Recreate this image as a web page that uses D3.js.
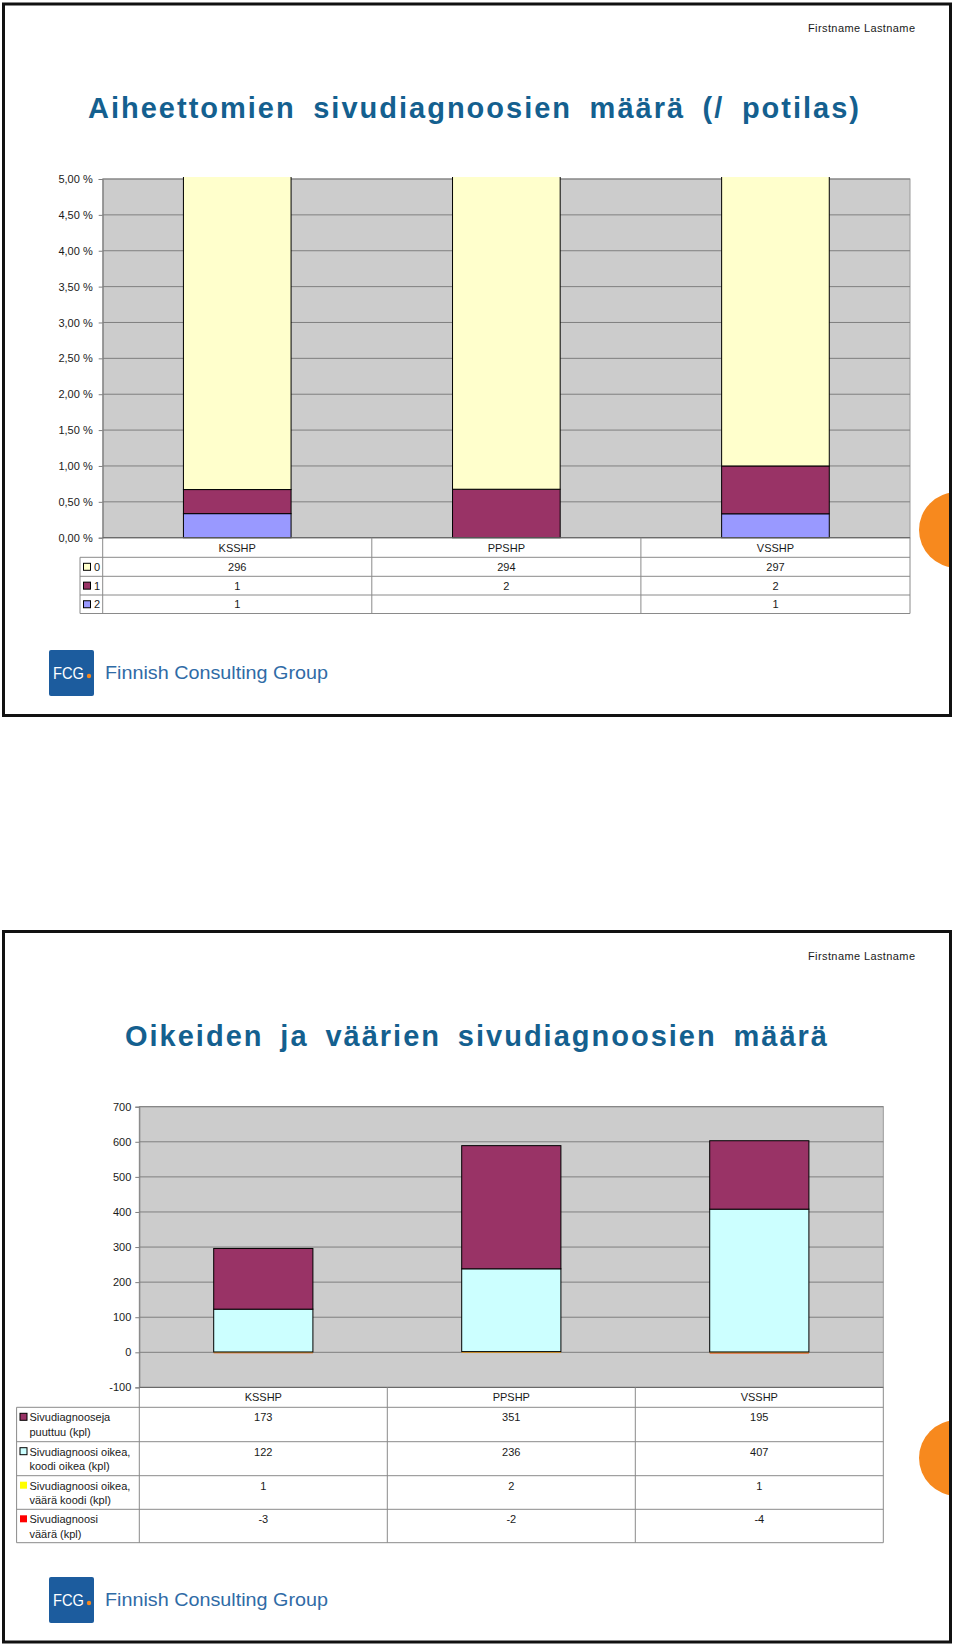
<!DOCTYPE html>
<html>
<head>
<meta charset="utf-8">
<script src="https://cdn.jsdelivr.net/npm/d3@7"></script>
<style>
  html, body { margin: 0; padding: 0; background: #fff; }
  svg { display: block; }
  text { font-family: "Liberation Sans", Arial, sans-serif; }
</style>
</head>
<body>
<script>
// ---------------- DATA ----------------
const categories = ["KSSHP", "PPSHP", "VSSHP"];

// Chart 1: Aiheettomien sivudiagnoosien määrä (/ potilas)
const chart1Title = "Aiheettomien sivudiagnoosien määrä (/ potilas)";
const c1SeriesNames = ["0", "1", "2"];
const c1Series0 = [296, 294, 297];
const c1Series1 = [1, 2, 2];
const c1Series2 = [1, null, 1];
const c1TickValues = [0, 0.005, 0.01, 0.015, 0.02, 0.025, 0.03, 0.035, 0.04, 0.045, 0.05];
const c1TickLabels = ["0,00 %", "0,50 %", "1,00 %", "1,50 %", "2,00 %", "2,50 %", "3,00 %", "3,50 %", "4,00 %", "4,50 %", "5,00 %"];

// Chart 2: Oikeiden ja väärien sivudiagnoosien määrä
const chart2Title = "Oikeiden ja väärien sivudiagnoosien määrä";
const c2SeriesLabels = [
  ["Sivudiagnooseja", "puuttuu (kpl)"],
  ["Sivudiagnoosi oikea,", "koodi oikea (kpl)"],
  ["Sivudiagnoosi oikea,", "väärä koodi (kpl)"],
  ["Sivudiagnoosi", "väärä (kpl)"]
];
const c2Puuttuu = [173, 351, 195];
const c2OikeaOikea = [122, 236, 407];
const c2OikeaVaara = [1, 2, 1];
const c2Vaara = [-3, -2, -4];
const c2TickValues = [-100, 0, 100, 200, 300, 400, 500, 600, 700];
const c2TickLabels = ["-100", "0", "100", "200", "300", "400", "500", "600", "700"];

const authorText = "Firstname Lastname";
const logoText = "Finnish Consulting Group";

// ---------------- STYLE ----------------
const FONT = '"Liberation Sans", Arial, sans-serif';
const TEXT_COLOR = "#1a1a1a";
const PLOT_BG = "#cccccc";
const GRID = "#7f7f7f";
const TABLE_LINE = "#8a8a8a";
const TITLE_COLOR = "#14608f";
const ORANGE = "#f7891e";
const LOGO_BLUE = "#1c5c9e";
const LOGO_TEXT = "#2f6ba6";

const svg = d3.select("body").append("svg").attr("width", 960).attr("height", 1645);
const defs = svg.append("defs");

// ---------------- SLIDE FRAME ----------------
function slide(top, bottom, circleY, titleText, titleX0, titleX1, titleBaseline, authorY, logoY) {
  const g = svg.append("g");
  const clipId = "slideclip" + Math.round(top);
  defs.append("clipPath").attr("id", clipId).append("rect")
    .attr("x", 3.5).attr("y", top).attr("width", 947).attr("height", bottom - top);
  g.append("circle").attr("clip-path", `url(#${clipId})`)
    .attr("cx", 957).attr("cy", circleY).attr("r", 38).attr("fill", ORANGE);
  g.append("rect").attr("x", 3.5).attr("y", top).attr("width", 947).attr("height", bottom - top)
    .attr("fill", "none").attr("stroke", "#111").attr("stroke-width", 3);
  g.append("text").attr("x", 915).attr("y", authorY).attr("text-anchor", "end")
    .attr("font-size", 11).attr("fill", TEXT_COLOR)
    .attr("textLength", 107).attr("lengthAdjust", "spacing").text(authorText);
  const title = g.append("text").attr("x", titleX0).attr("y", titleBaseline)
    .attr("font-size", 29).attr("font-weight", "bold").attr("fill", TITLE_COLOR)
    .style("letter-spacing", "2px").text(titleText);
  const measured = title.node().getComputedTextLength();
  const spaces = (titleText.match(/ /g) || []).length;
  const ws = (titleX1 - titleX0 - measured) / spaces;
  title.style("word-spacing", ws + "px");
  // logo
  g.append("rect").attr("x", 49).attr("y", logoY).attr("width", 45).attr("height", 46)
    .attr("rx", 2).attr("fill", LOGO_BLUE);
  g.append("text").attr("x", 53).attr("y", logoY + 29).attr("font-size", 17)
    .attr("fill", "#fff").attr("textLength", 31).attr("lengthAdjust", "spacingAndGlyphs").text("FCG");
  g.append("circle").attr("cx", 89).attr("cy", logoY + 26).attr("r", 2.2).attr("fill", ORANGE);
  g.append("text").attr("x", 105).attr("y", logoY + 29).attr("font-size", 19)
    .attr("fill", LOGO_TEXT).attr("textLength", 223).attr("lengthAdjust", "spacingAndGlyphs").text(logoText);
}

slide(4, 715.5, 530, chart1Title, 88, 861, 118, 32, 650);
slide(931.5, 1642, 1458, chart2Title, 125, 829, 1046, 960, 1577);

// ---------------- CHART 1 ----------------
(function () {
  const x0 = 102.7, x1 = 910, yTop = 179, yZero = 537.7;
  const rowEdges = [537.7, 557.3, 576.3, 595, 613.5];
  const legendLeft = 80;

  const x = d3.scaleBand().domain(categories).range([x0, x1]).paddingInner(0.6).paddingOuter(0.3);
  const xCol = d3.scaleBand().domain(categories).range([x0, x1]).padding(0);
  const y = d3.scaleLinear().domain([0, 0.05]).range([yZero, yTop]);

  const g = svg.append("g");
  g.append("rect").attr("x", x0).attr("y", yTop).attr("width", x1 - x0).attr("height", yZero - yTop)
    .attr("fill", PLOT_BG).attr("stroke", "#9a9a9a").attr("stroke-width", 1);
  g.selectAll("line.grid").data(c1TickValues).join("line")
    .attr("x1", x0).attr("x2", x1).attr("y1", d => y(d)).attr("y2", d => y(d))
    .attr("stroke", GRID).attr("stroke-width", 1);

  const rows = categories.map((c, i) => ({ cat: c, "0": c1Series0[i], "1": c1Series1[i], "2": c1Series2[i] || 0 }));
  const stack = d3.stack().keys(["2", "1", "0"]).offset(d3.stackOffsetExpand);
  const layers = stack(rows);
  const colors = { "0": "#ffffcc", "1": "#993366", "2": "#9999ff" };

  defs.append("clipPath").attr("id", "c1clip").append("rect")
    .attr("x", x0 - 5).attr("y", yTop - 2).attr("width", x1 - x0 + 10).attr("height", yZero - yTop + 4);
  const bars = g.append("g").attr("clip-path", "url(#c1clip)");
  layers.forEach(layer => {
    bars.selectAll(null).data(layer.filter(d => d[1] - d[0] > 0)).join("rect")
      .attr("x", d => x(d.data.cat)).attr("width", x.bandwidth())
      .attr("y", d => y(d[1])).attr("height", d => y(d[0]) - y(d[1]))
      .attr("fill", colors[layer.key]).attr("stroke", "#000").attr("stroke-width", 1);
  });

  const axis = d3.axisLeft(y).tickValues(c1TickValues).tickSize(4).tickPadding(6)
    .tickFormat((d, i) => c1TickLabels[i]);
  const ag = g.append("g").attr("transform", `translate(${x0},0)`).call(axis);
  ag.select(".domain").attr("stroke", GRID);
  ag.selectAll(".tick line").attr("stroke", GRID);
  ag.selectAll("text").attr("font-size", 11).attr("fill", TEXT_COLOR).attr("font-family", FONT);

  // data table
  const t = g.append("g");
  t.append("line").attr("x1", x0).attr("x2", x1).attr("y1", yZero).attr("y2", yZero).attr("stroke", "#666");
  rowEdges.slice(1).forEach(yy => {
    t.append("line").attr("x1", legendLeft).attr("x2", x1).attr("y1", yy).attr("y2", yy).attr("stroke", TABLE_LINE);
  });
  t.append("line").attr("x1", legendLeft).attr("x2", legendLeft).attr("y1", rowEdges[1]).attr("y2", rowEdges[4]).attr("stroke", TABLE_LINE);
  categories.forEach(c => {
    t.append("line").attr("x1", xCol(c)).attr("x2", xCol(c)).attr("y1", yZero).attr("y2", rowEdges[4]).attr("stroke", TABLE_LINE);
  });
  t.append("line").attr("x1", x1).attr("x2", x1).attr("y1", yZero).attr("y2", rowEdges[4]).attr("stroke", TABLE_LINE);
  categories.forEach(c => {
    t.append("text").attr("x", xCol(c) + xCol.bandwidth() / 2).attr("y", (rowEdges[0] + rowEdges[1]) / 2 + 4)
      .attr("text-anchor", "middle").attr("font-size", 11).attr("fill", TEXT_COLOR).text(c);
  });
  const seriesVals = [c1Series0, c1Series1, c1Series2];
  c1SeriesNames.forEach((name, r) => {
    const cy = (rowEdges[r + 1] + rowEdges[r + 2]) / 2;
    t.append("rect").attr("x", 83.5).attr("y", cy - 3.5).attr("width", 7).attr("height", 7)
      .attr("fill", colors[name]).attr("stroke", "#000").attr("stroke-width", 1);
    t.append("text").attr("x", 94).attr("y", cy + 4).attr("font-size", 11).attr("fill", TEXT_COLOR).text(name);
    categories.forEach((c, i) => {
      const v = seriesVals[r][i];
      if (v === null) return;
      t.append("text").attr("x", xCol(c) + xCol.bandwidth() / 2).attr("y", cy + 4)
        .attr("text-anchor", "middle").attr("font-size", 11).attr("fill", TEXT_COLOR).text(v);
    });
  });
})();

// ---------------- CHART 2 ----------------
(function () {
  const x0 = 139.3, x1 = 883.3, yTop = 1106.7, yBot = 1387.4;
  const rowEdges = [1387.4, 1407.3, 1441.7, 1475.7, 1509.3, 1542.7];
  const legendLeft = 16.6;

  const x = d3.scaleBand().domain(categories).range([x0, x1]).paddingInner(0.6).paddingOuter(0.3);
  const xCol = d3.scaleBand().domain(categories).range([x0, x1]).padding(0);
  const y = d3.scaleLinear().domain([-100, 700]).range([yBot, yTop]);

  const g = svg.append("g");
  g.append("rect").attr("x", x0).attr("y", yTop).attr("width", x1 - x0).attr("height", yBot - yTop)
    .attr("fill", PLOT_BG).attr("stroke", "#9a9a9a").attr("stroke-width", 1);
  g.selectAll("line.grid").data(c2TickValues).join("line")
    .attr("x1", x0).attr("x2", x1).attr("y1", d => y(d)).attr("y2", d => y(d))
    .attr("stroke", GRID).attr("stroke-width", 1);

  const rows = categories.map((c, i) => ({
    cat: c, puuttuu: c2Puuttuu[i], oikeaOikea: c2OikeaOikea[i], oikeaVaara: c2OikeaVaara[i], vaara: c2Vaara[i]
  }));
  const keys = ["oikeaVaara", "oikeaOikea", "puuttuu", "vaara"];
  const colors = { puuttuu: "#993366", oikeaOikea: "#ccffff", oikeaVaara: "#ffff00", vaara: "#ff0000" };
  const strokes = { puuttuu: "#000", oikeaOikea: "#000", oikeaVaara: "none", vaara: "none" };
  const layers = d3.stack().keys(keys).offset(d3.stackOffsetDiverging)(rows);
  const drawOrder = ["vaara", "oikeaVaara", "oikeaOikea", "puuttuu"];
  drawOrder.forEach(k => {
    const layer = layers.find(l => l.key === k);
    g.selectAll(null).data(layer).join("rect")
      .attr("x", d => x(d.data.cat)).attr("width", x.bandwidth())
      .attr("y", d => y(Math.max(d[0], d[1]))).attr("height", d => Math.abs(y(d[0]) - y(d[1])))
      .attr("fill", k === "vaara" ? "#e8642a" : colors[k])
      .attr("stroke", strokes[k]).attr("stroke-width", 1);
  });

  const axis = d3.axisLeft(y).tickValues(c2TickValues).tickSize(4).tickPadding(4)
    .tickFormat((d, i) => c2TickLabels[i]);
  const ag = g.append("g").attr("transform", `translate(${x0},0)`).call(axis);
  ag.select(".domain").attr("stroke", GRID);
  ag.selectAll(".tick line").attr("stroke", GRID);
  ag.selectAll("text").attr("font-size", 11).attr("fill", TEXT_COLOR).attr("font-family", FONT);

  // data table
  const t = g.append("g");
  t.append("line").attr("x1", x0).attr("x2", x1).attr("y1", yBot).attr("y2", yBot).attr("stroke", "#666");
  rowEdges.slice(1).forEach(yy => {
    t.append("line").attr("x1", legendLeft).attr("x2", x1).attr("y1", yy).attr("y2", yy).attr("stroke", TABLE_LINE);
  });
  t.append("line").attr("x1", legendLeft).attr("x2", legendLeft).attr("y1", rowEdges[1]).attr("y2", rowEdges[5]).attr("stroke", TABLE_LINE);
  categories.forEach(c => {
    t.append("line").attr("x1", xCol(c)).attr("x2", xCol(c)).attr("y1", yBot).attr("y2", rowEdges[5]).attr("stroke", TABLE_LINE);
  });
  t.append("line").attr("x1", x1).attr("x2", x1).attr("y1", yBot).attr("y2", rowEdges[5]).attr("stroke", TABLE_LINE);
  categories.forEach(c => {
    t.append("text").attr("x", xCol(c) + xCol.bandwidth() / 2).attr("y", (rowEdges[0] + rowEdges[1]) / 2 + 4)
      .attr("text-anchor", "middle").attr("font-size", 11).attr("fill", TEXT_COLOR).text(c);
  });
  const tableKeys = ["puuttuu", "oikeaOikea", "oikeaVaara", "vaara"];
  const tableVals = [c2Puuttuu, c2OikeaOikea, c2OikeaVaara, c2Vaara];
  tableKeys.forEach((k, r) => {
    const top = rowEdges[r + 1];
    const line1 = top + 14;
    t.append("rect").attr("x", 20).attr("y", line1 - 8).attr("width", 7).attr("height", 7)
      .attr("fill", colors[k]).attr("stroke", strokes[k] === "none" ? "none" : "#000").attr("stroke-width", 1);
    c2SeriesLabels[r].forEach((ln, j) => {
      t.append("text").attr("x", 29.5).attr("y", line1 + j * 14.5).attr("font-size", 11)
        .attr("fill", TEXT_COLOR).text(ln);
    });
    categories.forEach((c, i) => {
      t.append("text").attr("x", xCol(c) + xCol.bandwidth() / 2).attr("y", line1)
        .attr("text-anchor", "middle").attr("font-size", 11).attr("fill", TEXT_COLOR).text(tableVals[r][i]);
    });
  });
})();
</script>
</body>
</html>
